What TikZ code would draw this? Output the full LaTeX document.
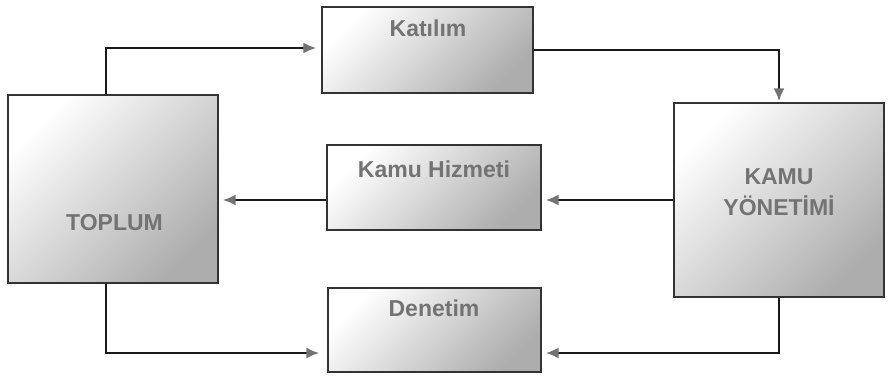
\documentclass[tikz,border=0pt]{standalone}
\usepackage{fontspec}
\setmainfont{Liberation Sans}
\usetikzlibrary{arrows.meta,calc}
\tikzset{
  box/.style={draw=black!80, line width=1.2pt, shade, top color=white, middle color=black!5, bottom color=black!32, shading angle=45, inner sep=0pt},
  lbl/.style={text=black!55, font=\fontsize{23}{31}\selectfont\bfseries, align=center, inner sep=0pt},
  conn/.style={draw=black!90, line width=2.5pt, -{Latex[length=13pt,width=11pt,color=black!55]}},
}
\begin{document}
\begin{tikzpicture}[x=1pt,y=-1pt]
\useasboundingbox (0,0) rectangle (888,375);
\node[box, minimum width=210pt, minimum height=188pt] (toplum) at (113,189) {};
\node[box, minimum width=211pt, minimum height=86pt] (katilim) at (427.5,50) {};
\node[box, minimum width=214pt, minimum height=85pt] (hizmet) at (434,187.5) {};
\node[box, minimum width=213pt, minimum height=84pt] (denetim) at (434.5,330) {};
\node[box, minimum width=210pt, minimum height=194pt] (kamu) at (779,200) {};

\node[lbl] (ttoplum) at (114.5,223) {TOPLUM};
\node[lbl] (tkatilim) at (428,28) {Katılım};
\node[lbl] (thizmet) at (434,169) {Kamu Hizmeti};
\node[lbl] (tdenetim) at (434,308) {Denetim};
\node[lbl] (tkamu) at (779,192.5) {KAMU\\YÖNETİMİ};

\coordinate (lx) at (106,0);
\coordinate (topy) at (0,48);
\coordinate (lowy) at (0,353);

\draw[conn, shorten >=5pt] (toplum.north -| lx) -- (lx |- topy) -- (katilim.west |- topy);
\draw[conn, shorten >=1pt] (katilim.east) -| (kamu.north);
\draw[conn, shorten >=4pt] (kamu.west) -- (kamu.west -| hizmet.east);
\draw[conn, shorten >=4pt] (hizmet.west |- kamu.west) -- (toplum.east |- kamu.west);
\draw[conn, shorten >=8pt] (toplum.south -| lx) -- (lx |- lowy) -- (denetim.west |- lowy);
\draw[conn, shorten >=4pt] (kamu.south) -- (kamu.south |- lowy) -- (denetim.east |- lowy);
\end{tikzpicture}
\end{document}
